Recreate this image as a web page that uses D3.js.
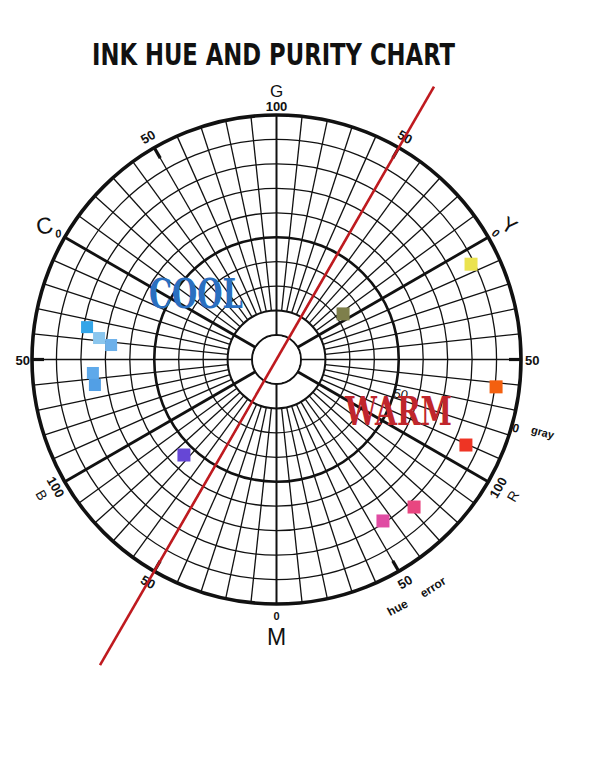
<!DOCTYPE html>
<html>
<head>
<meta charset="utf-8">
<script src="https://cdn.jsdelivr.net/npm/d3@7"></script>
<style>
  body { margin: 0; background: #fff; }
  text { font-family: "Liberation Sans", "DejaVu Sans", sans-serif; fill: #111; }
</style>
</head>
<body>
<div id="chart"></div>
<script>
// purity rings (0 = centre, 10 = rim) and hue spokes every 6 degrees
const rings = d3.range(1, 11)
const spokes = d3.range(0, 360, 6)

// the six hue axes
const axisNames = ["Y", "G", "C", "B", "M", "R"]
const axisAngles = [30, 90, 150, 210, 270, 330]
const axisValues = ["0", "100", "0", "100", "0", "100"]

// hue error "50" marks between axes
const halfAngles = [0, 60, 120, 180, 240, 300]

// ink samples: hue angle (deg), ring position, colour
const inkHue = [34.4, 26.1, -7.1, -24.3, -47.0, -56.6, 225.9, 170.3, 173.1, 175.0, 184.2, 188.0]
const inkRing = [3.30, 8.86, 9.05, 8.50, 8.25, 7.91, 5.44, 7.86, 7.31, 6.79, 7.53, 7.50]
const inkColors = ["#7e7f4b", "#ebe34f", "#f4600f", "#ee3424", "#e84680", "#e04ca3",
                   "#6647d6", "#33a5e8", "#8ac6ee", "#6cb0ea", "#5ea9ea", "#529fe5"]

const width = 590, height = 758
const cx = 276.5, cy = 359.5, R = 244.5

const svg = d3.select("#chart")
    .append("svg")
    .attr("width", width)
    .attr("height", height)

const rScale = d3.scaleLinear().domain([0, 10]).range([0, R])
const rad = d => d * Math.PI / 180
const pt = (deg, r) => [cx + r * Math.cos(rad(deg)), cy - r * Math.sin(rad(deg))]

// title
svg.append("text")
    .attr("x", 92).attr("y", 65)
    .attr("textLength", 363).attr("lengthAdjust", "spacingAndGlyphs")
    .style("font-family", "'Liberation Sans Narrow', 'DejaVu Sans Condensed', 'Liberation Sans', sans-serif")
    .style("font-weight", "bold").style("font-size", "30px")
    .text("INK HUE AND PURITY CHART")

const grid = svg.append("g")

// spokes
grid.selectAll(".spoke")
    .data(spokes)
    .enter().append("line")
    .attr("class", "spoke")
    .each(function(a) {
        const main = axisAngles.includes(a)
        const inner = main || a === 0 || a === 180 ? rScale(1) : rScale(2)
        const p0 = pt(a, inner), p1 = pt(a, R)
        d3.select(this)
            .attr("x1", p0[0]).attr("y1", p0[1])
            .attr("x2", p1[0]).attr("y2", p1[1])
            .attr("stroke", "#111")
            .attr("stroke-width", main ? (a === 90 || a === 270 ? 2 : 2.8) : 1.3)
    })

// rings
grid.selectAll(".ring")
    .data(rings)
    .enter().append("circle")
    .attr("class", "ring")
    .attr("cx", cx).attr("cy", cy)
    .attr("r", d => rScale(d))
    .attr("fill", "none")
    .attr("stroke", "#111")
    .attr("stroke-width", d => d === 10 ? 3.6 : d === 5 ? 2.6 : d <= 2 ? 2 : 1.3)

// white centre
grid.append("circle")
    .attr("cx", cx).attr("cy", cy).attr("r", rScale(1) - 1)
    .attr("fill", "#fff")

// heavy "50" ticks at rim
grid.selectAll(".tick50")
    .data(halfAngles)
    .enter().append("line")
    .each(function(a) {
        const p0 = pt(a, R - 12), p1 = pt(a, R)
        d3.select(this)
            .attr("x1", p0[0]).attr("y1", p0[1])
            .attr("x2", p1[0]).attr("y2", p1[1])
            .attr("stroke", "#111").attr("stroke-width", 3.2)
    })

// rim "50" labels
const halfRot = {60: 30, 120: -30, 240: 30, 300: -30}
halfAngles.forEach(a => {
    if (a === 0) {
        svg.append("text").attr("x", 525).attr("y", cy + 5)
            .style("font-size", "13px").style("font-weight", "bold").text("50")
    } else if (a === 180) {
        svg.append("text").attr("x", 30).attr("y", cy + 5).attr("text-anchor", "end")
            .style("font-size", "13px").style("font-weight", "bold").text("50")
    } else {
        const p = pt(a, 257)
        svg.append("text")
            .attr("transform", `translate(${p[0]},${p[1]}) rotate(${halfRot[a]})`)
            .attr("text-anchor", "middle").attr("dy", "0.35em")
            .style("font-size", "13px").style("font-weight", "bold").text("50")
    }
})

// axis names and values
const axisLayout = {
    G: {rot: 0, size: 17, numR: 253, letR: 269},
    Y: {rot: 32, size: 21, numR: 253, letR: 269},
    C: {rot: -12, size: 23, numR: 252, letR: 268},
    B: {rot: 60, size: 14, numR: 255, letR: 271},
    M: {rot: 0, size: 23, numR: 257, letR: 277},
    R: {rot: -60, size: 14, numR: 256, letR: 273}
}
axisNames.forEach((name, i) => {
    const L = axisLayout[name], a = axisAngles[i]
    const pn = pt(a, L.numR), pl = pt(a, L.letR)
    const small = axisValues[i] === "0"
    svg.append("text")
        .attr("transform", `translate(${pn[0]},${pn[1]}) rotate(${L.rot})`)
        .attr("text-anchor", "middle").attr("dy", "0.35em")
        .style("font-size", small ? "11px" : "13px")
        .style("font-weight", "bold")
        .style("font-style", small && name !== "M" ? "italic" : "normal")
        .text(axisValues[i])
    svg.append("text")
        .attr("transform", `translate(${pl[0]},${pl[1]}) rotate(${L.rot})`)
        .attr("text-anchor", "middle").attr("dy", "0.36em")
        .style("font-size", L.size + "px")
        .text(name)
})

// gray scale labels
const pg0 = pt(-16, 249), pg1 = pt(-15.3, 276), pg50 = pt(-15.5, 129)
svg.append("text").attr("transform", `translate(${pg0[0]},${pg0[1]}) rotate(15)`)
    .attr("text-anchor", "middle").attr("dy", "0.35em")
    .style("font-size", "12px").style("font-weight", "bold").text("0")
svg.append("text").attr("transform", `translate(${pg1[0]},${pg1[1]}) rotate(15)`)
    .attr("text-anchor", "middle").attr("dy", "0.35em")
    .style("font-size", "11px").style("font-weight", "bold").text("gray")
svg.append("text").attr("transform", `translate(${pg50[0]},${pg50[1]}) rotate(10)`)
    .attr("text-anchor", "middle").attr("dy", "0.35em")
    .style("font-size", "13px").text("50")

// hue error caption
const ph = pt(-64, 276), pe = pt(-55.5, 276)
svg.append("text").attr("transform", `translate(${ph[0]},${ph[1]}) rotate(-28)`)
    .attr("text-anchor", "middle").attr("dy", "0.35em")
    .style("font-size", "12px").style("font-weight", "bold").text("hue")
svg.append("text").attr("transform", `translate(${pe[0]},${pe[1]}) rotate(-33)`)
    .attr("text-anchor", "middle").attr("dy", "0.35em")
    .style("font-size", "12px").style("font-weight", "bold").text("error")

// COOL / WARM
svg.append("text").attr("x", 149).attr("y", 308)
    .attr("textLength", 94).attr("lengthAdjust", "spacingAndGlyphs")
    .style("font-family", "'DejaVu Serif', serif")
    .style("font-weight", "bold")
    .style("font-size", "41px").style("fill", "#2a6fc0")
    .text("COOL")
svg.append("text").attr("x", 345).attr("y", 425)
    .attr("textLength", 107).attr("lengthAdjust", "spacingAndGlyphs")
    .style("font-family", "'DejaVu Serif', serif")
    .style("font-weight", "bold")
    .style("font-size", "39px").style("fill", "#c0262c")
    .text("WARM")

// red hue line through the centre
const l0 = pt(60, 315), l1 = pt(240, 353)
svg.append("line")
    .attr("x1", l0[0]).attr("y1", l0[1]).attr("x2", l1[0]).attr("y2", l1[1])
    .attr("stroke", "#bf1a1f").attr("stroke-width", 2.6)

// ink samples
const inks = inkHue.map((h, i) => ({hue: h, ring: inkRing[i], color: inkColors[i]}))
svg.selectAll(".ink")
    .data(inks)
    .enter().append("rect")
    .attr("class", "ink")
    .attr("width", (d, i) => i >= 7 ? 12 : 13)
    .attr("height", (d, i) => i >= 7 ? 12 : 13)
    .attr("x", (d, i) => pt(d.hue, rScale(d.ring))[0] - (i >= 7 ? 6 : 6.5))
    .attr("y", (d, i) => pt(d.hue, rScale(d.ring))[1] - (i >= 7 ? 6 : 6.5))
    .attr("fill", d => d.color)
</script>
</body>
</html>
